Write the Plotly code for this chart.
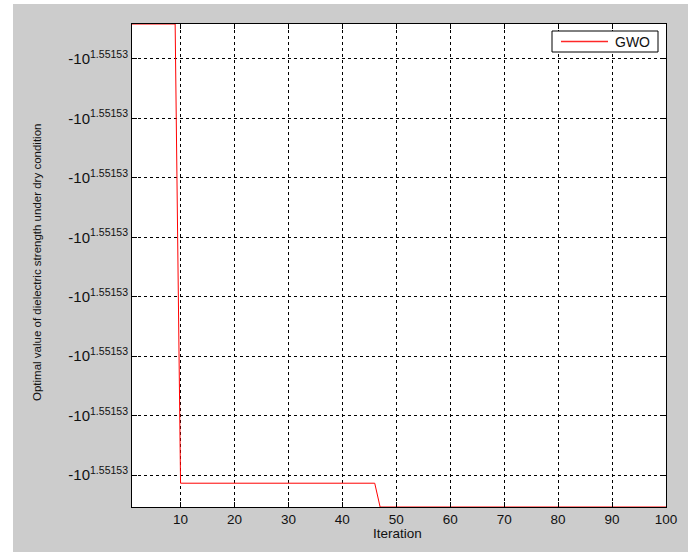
import plotly.graph_objects as go

# Convergence of the GWO best score, stored as runs of equal values.
# Values are offsets from -10^1.55153 measured in y-tick steps
# (the differences are far below the printed precision of the labels).
run_lengths = [9, 37, 54]
run_values = [0.586, -7.136, -7.536]

iterations = list(range(1, sum(run_lengths) + 1))
gwo_score = [v for v, n in zip(run_values, run_lengths) for _ in range(n)]

x_ticks = [10, 20, 30, 40, 50, 60, 70, 80, 90, 100]
y_ticks = [0, -1, -2, -3, -4, -5, -6, -7]
y_tick_text = ["-10<sup>1.55153</sup>"] * len(y_ticks)

x_range = [1, 100]
y_range = [-7.536, 0.586]

series_name = "GWO"
series_color = "#ff0000"

FONT = "Liberation Sans, Arial, sans-serif"
GRAY = "#cccccc"

fig = go.Figure()
fig.add_trace(go.Scatter(
    x=iterations, y=gwo_score, mode="lines", name=series_name,
    line=dict(color=series_color, width=1), showlegend=False,
))

axis_common = dict(
    showline=True, linecolor="#000000", linewidth=1, mirror="ticks",
    ticks="inside", ticklen=5, tickcolor="#000000",
    showgrid=True, gridcolor="#000000", gridwidth=1, griddash="3px,3px",
    zeroline=False,
)

fig.update_xaxes(range=x_range, tickvals=x_ticks,
                 tickfont=dict(family=FONT, size=13.5, color="#111111"),
                 **axis_common)
fig.update_yaxes(range=y_range, tickvals=y_ticks, ticktext=y_tick_text,
                 tickfont=dict(family=FONT, size=15, color="#111111"),
                 **axis_common)

W, H = 688, 552
L, R, T, B = 132, 22, 24, 45
pw, ph = W - L - R, H - T - B


def px(x):
    return (x - L) / pw


def py(y):
    return (H - B - y) / ph


def paper_rect(x0, y0, x1, y1, fill, line=None, layer="above"):
    return dict(type="rect", xref="paper", yref="paper",
                x0=px(x0), x1=px(x1), y0=py(y1), y1=py(y0),
                fillcolor=fill, line=line or dict(width=0), layer=layer)


# legend box in the upper right corner of the axes
leg_x0, leg_y0, leg_x1, leg_y1 = 552, 31, 658, 52
leg_mid = 41.5

fig.update_layout(
    width=W, height=H,
    margin=dict(l=L, r=R, t=T, b=B),
    paper_bgcolor=GRAY, plot_bgcolor="#ffffff",
    showlegend=False,
    shapes=[
        # white strips around the figure window
        paper_rect(0, 0, 13, H, "#ffffff"),
        paper_rect(0, 0, W, 4, "#ffffff"),
        # legend box and its line sample
        paper_rect(leg_x0, leg_y0, leg_x1, leg_y1, "#ffffff",
                   line=dict(color="#000000", width=1)),
        dict(type="line", xref="paper", yref="paper",
             x0=px(561), x1=px(608), y0=py(leg_mid), y1=py(leg_mid),
             line=dict(color="rgb(255,40,40)", width=1.6), layer="above"),
    ],
    annotations=[
        dict(text=series_name, xref="paper", yref="paper",
             x=px(613), y=py(leg_mid), xanchor="left", yanchor="middle",
             showarrow=False,
             font=dict(family=FONT, size=14, color="#111111")),
        dict(text="Optimal value of dielectric strength under dry condition",
             xref="paper", yref="paper", x=px(37), y=py(263),
             xanchor="center", yanchor="middle", textangle=-90,
             showarrow=False,
             font=dict(family=FONT, size=11.5, color="#111111")),
        dict(text="Iteration", xref="paper", yref="paper",
             x=px(397), y=py(533), xanchor="center", yanchor="middle",
             showarrow=False,
             font=dict(family=FONT, size=13.5, color="#111111")),
    ],
)

fig.write_html("out.html")
